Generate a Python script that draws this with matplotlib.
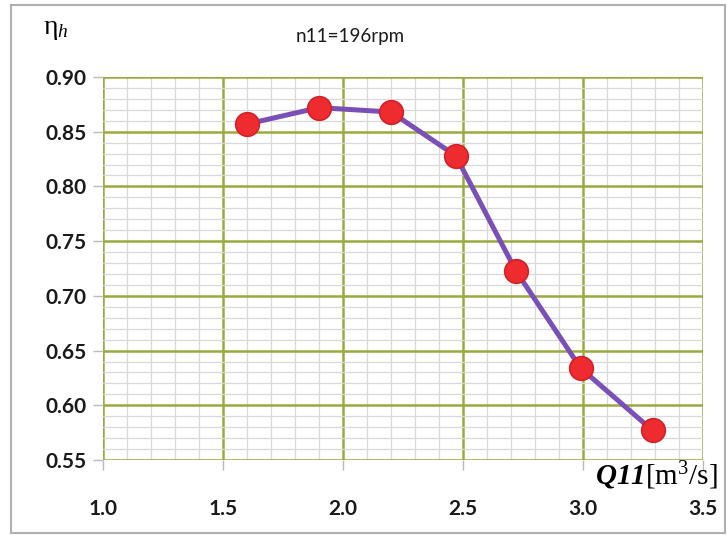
import matplotlib
matplotlib.use("Agg")
import matplotlib.pyplot as plt
import matplotlib.patches as patches
import numpy as np

# data
q11 = [1.60, 1.90, 2.20, 2.47, 2.72, 2.99, 3.29]
eta_h = [0.857, 0.872, 0.868, 0.828, 0.723, 0.634, 0.577]

x_ticks = [1.0, 1.5, 2.0, 2.5, 3.0, 3.5]
y_ticks = [0.55, 0.60, 0.65, 0.70, 0.75, 0.80, 0.85, 0.90]

plt.rcParams["mathtext.fontset"] = "custom"
plt.rcParams["mathtext.rm"] = "Liberation Serif"
plt.rcParams["mathtext.it"] = "Liberation Serif:italic"
plt.rcParams["mathtext.bf"] = "Liberation Serif:italic:bold"

fig = plt.figure(figsize=(7.27, 5.35), dpi=100)
ax = fig.add_axes([103 / 727, 1 - 460 / 535, 600 / 727, 383 / 535])

# outer frame round the whole chart
fig.patches.append(patches.Rectangle((11 / 727, 2 / 535), 714 / 727, 528 / 535,
                                     transform=fig.transFigure, fill=False,
                                     edgecolor="#b0b0b0", linewidth=1.5))

ax.set_xlim(1.0, 3.5)
ax.set_ylim(0.55, 0.90)
ax.set_xticks(x_ticks)
ax.set_yticks(y_ticks)
ax.set_xticks(np.arange(1.0, 3.51, 0.1), minor=True)
ax.set_yticks(np.arange(0.55, 0.901, 0.01), minor=True)
ax.set_xticklabels(["%.1f" % v for v in x_ticks])
ax.set_yticklabels(["%.2f" % v for v in y_ticks])

ax.grid(which="minor", color="#d9d9d9", linewidth=0.9)
ax.grid(which="major", color="#9aaa3c", linewidth=1.8)
ax.set_axisbelow(True)
for s in ax.spines.values():
    s.set_visible(False)

ax.tick_params(which="minor", length=0)
ax.tick_params(which="major", length=7, color="#bbbbbb", width=1)
ax.tick_params(axis="x", which="major", pad=21)
ax.tick_params(axis="y", which="major", pad=5)
for lab in ax.get_xticklabels() + ax.get_yticklabels():
    lab.set_fontfamily("Lato")
    lab.set_fontweight("bold")
    lab.set_fontsize(15)
    lab.set_color("#1a1a1a")

ax.plot(q11, eta_h, color="#7b4fb8", linewidth=3.6, zorder=3)
ax.plot(q11, eta_h, "o", markersize=17, markerfacecolor="#ee2b2f",
        markeredgecolor="#d42027", markeredgewidth=1.2, zorder=4)

fig.text(350 / 727, 1 - 37 / 535, "n11=196rpm", ha="center", va="center",
         fontsize=13.5, fontfamily="Lato", color="#1a1a1a")
fig.text(43 / 727, 1 - 28 / 535, r"$\mathrm{\eta}_{\mathit{h}}$", ha="left",
         va="center", fontsize=20)
fig.text(718 / 727, 1 - 476 / 535, r"$\mathbf{Q11}\mathrm{[m}^{\mathit{3}}\mathrm{/s]}$",
         ha="right", va="center", fontsize=21)

fig.savefig("out.png", dpi=100)
